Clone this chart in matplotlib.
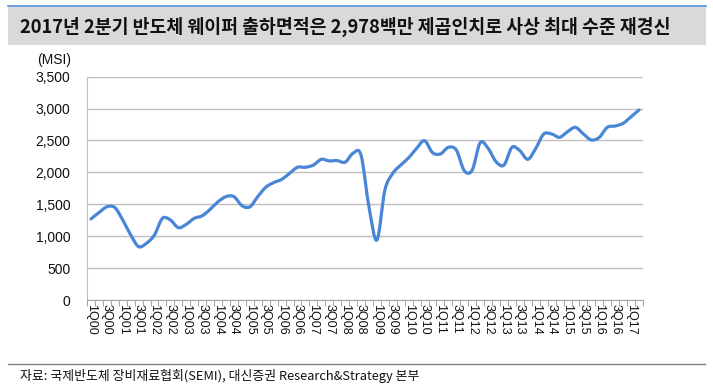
import matplotlib
matplotlib.use("Agg")
import matplotlib.pyplot as plt
from matplotlib.path import Path
from matplotlib.patches import PathPatch, Rectangle
from matplotlib.lines import Line2D
import numpy as np

plt.rcParams['font.family'] = ['Liberation Sans', 'Noto Sans CJK KR', 'DejaVu Sans']

quarters = [f"{q}Q{y:02d}" for y in range(0, 18) for q in range(1, 5)][:70]
values = [1270, 1370, 1460, 1450, 1254, 1020, 836, 890, 1020, 1280,
          1254, 1134, 1186, 1280, 1320, 1420, 1540, 1620, 1620, 1480,
          1460, 1620, 1766, 1840, 1890, 1985, 2080, 2080, 2115, 2205,
          2180, 2185, 2160, 2300, 2270, 1460, 940, 1720, 1985, 2115,
          2230, 2377, 2497, 2310, 2290, 2393, 2350, 2027, 2037, 2466,
          2377, 2168, 2115, 2393, 2340, 2205, 2377, 2602, 2602, 2550,
          2638, 2706, 2602, 2508, 2550, 2706, 2727, 2769, 2873, 2978]
yticks = [0, 500, 1000, 1500, 2000, 2500, 3000, 3500]
title = "2017년 2분기 반도체 웨이퍼 출하면적은 2,978백만 제곱인치로 사상 최대 수준 재경신"
source = "자료: 국제반도체 장비재료협회(SEMI), 대신증권 Research&Strategy 본부"
unit = "(MSI)"

W, H = 713, 388
fig = plt.figure(figsize=(W / 100, H / 100), dpi=100)

# title bar
fig.add_artist(Rectangle((8 / W, 1 - 45 / H), (706 - 8) / W, (45 - 7) / H,
                         transform=fig.transFigure, facecolor='#D9D9D9', edgecolor='none'))
fig.add_artist(Line2D([8 / W, 706 / W], [1 - 6 / H, 1 - 6 / H], transform=fig.transFigure,
                      color='#4F8FE0', lw=1.2))
fig.text(20 / W, 1 - 27 / H, title, fontsize=13.2, fontweight='bold', va='center', ha='left',
         family=['Noto Sans CJK KR', 'DejaVu Sans'], color='#111111')

# footer
fig.add_artist(Line2D([8 / W, 705 / W], [1 - 364 / H, 1 - 364 / H], transform=fig.transFigure,
                      color='#808080', lw=1.0))
fig.text(20 / W, 1 - 376 / H, source, fontsize=9.3, va='center', ha='left',
         family=['Noto Sans CJK KR', 'DejaVu Sans'], color='#111111')

left, right, top, bottom = 87, 643, 76.7, 300
ax = fig.add_axes([left / W, 1 - bottom / H, (right - left) / W, (bottom - top) / H])

n = len(values)
x = np.arange(n, dtype=float)
y = np.array(values, dtype=float)

# smooth line (Catmull-Rom rendered as cubic Bezier through data points)
verts = [(x[0], y[0])]
codes = [Path.MOVETO]
for i in range(n - 1):
    p0 = (x[i - 1], y[i - 1]) if i > 0 else (x[i], y[i])
    p1 = (x[i], y[i])
    p2 = (x[i + 1], y[i + 1])
    p3 = (x[i + 2], y[i + 2]) if i + 2 < n else (x[i + 1], y[i + 1])
    c1 = (p1[0] + (p2[0] - p0[0]) / 6, p1[1] + (p2[1] - p0[1]) / 6)
    c2 = (p2[0] - (p3[0] - p1[0]) / 6, p2[1] - (p3[1] - p1[1]) / 6)
    verts += [c1, c2, p2]
    codes += [Path.CURVE4] * 3
ax.add_patch(PathPatch(Path(verts, codes), facecolor='none', edgecolor='#4A86D6',
                       lw=2.3, capstyle='round', joinstyle='round', zorder=3))

ax.set_xlim(-0.5, n - 0.5)
ax.set_ylim(0, 3500)
ax.set_yticks(yticks)
ax.set_yticklabels([f"{v:,}" for v in yticks], fontsize=10, color='#111111')
ax.yaxis.grid(True, color='#BFBFBF', lw=1.0)
ax.set_axisbelow(True)
ax.tick_params(axis='y', length=0, pad=12)

ax.set_xticks(np.arange(-0.5, n, 1.0), minor=True)
ax.set_xticks(x[::2])
ax.set_xticklabels(quarters[::2], rotation=270, fontsize=9, color='#111111')
ax.tick_params(axis='x', which='major', length=0, pad=3)
ax.tick_params(axis='x', which='minor', length=4, color='#A6A6A6', width=0.8)

for s in ['top', 'right']:
    ax.spines[s].set_visible(False)
ax.spines['left'].set_color('#BFBFBF')
ax.spines['bottom'].set_color('#A6A6A6')

fig.text(37 / W, 1 - 60 / H, unit, fontsize=10, va='center', ha='left', color='#111111')

fig.savefig("out.png", dpi=100)
